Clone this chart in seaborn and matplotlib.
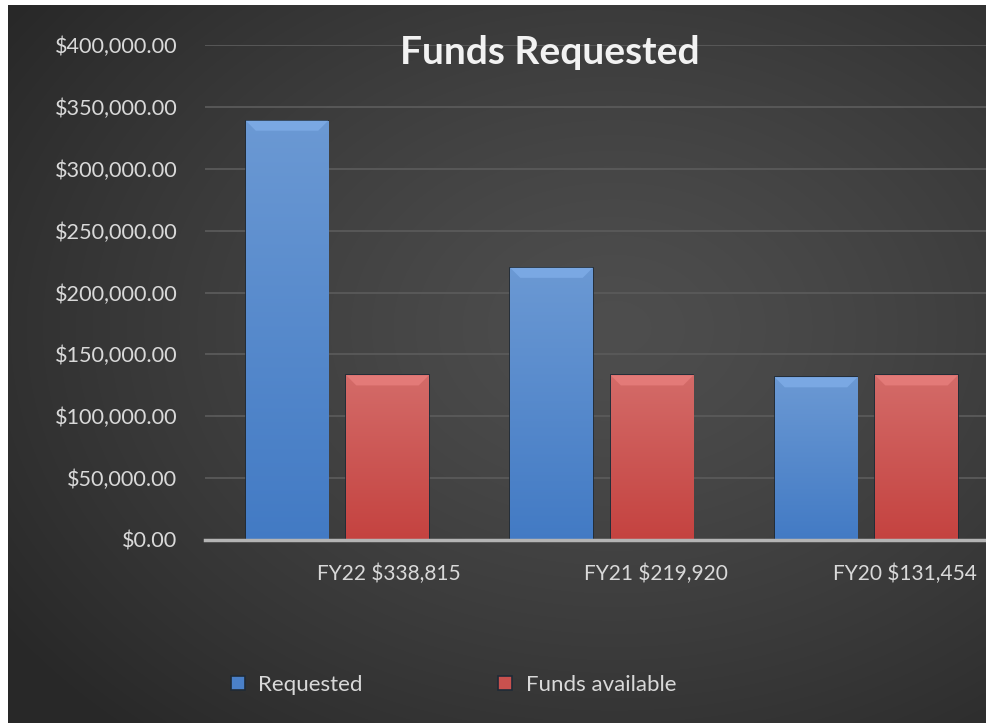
import numpy as np
import pandas as pd
import matplotlib
matplotlib.use("Agg")
import matplotlib.pyplot as plt
import matplotlib.transforms as mtransforms
from matplotlib.patches import Polygon
from matplotlib.ticker import FuncFormatter
import seaborn as sns

# ---- data ----
categories = ["FY22 $338,815", "FY21 $219,920", "FY20 $131,454"]
requested = [338815, 219920, 131454]
funds_available = [133000, 133000, 133000]
series_names = ["Requested", "Funds available"]
yticks = [0, 50000, 100000, 150000, 200000, 250000, 300000, 350000, 400000]

df = pd.DataFrame({
    "category": categories * 2,
    "value": requested + funds_available,
    "series": [series_names[0]] * 3 + [series_names[1]] * 3,
})

sns.set_theme(style="dark")
plt.rcParams["font.family"] = ["Lato", "DejaVu Sans"]

W, H = 986, 723
fig = plt.figure(figsize=(W / 100, H / 100), dpi=100, facecolor="white")

# background panel with radial gradient
bg = fig.add_axes([8 / W, 0, 1 - 8 / W, 1 - 5 / H], zorder=-10)
yy, xx = np.mgrid[0:1:400j, 0:1:500j]
r = np.sqrt(((xx - 0.62) / 0.75) ** 2 + ((yy - 0.45) / 0.75) ** 2)
r = np.clip(r, 0, 1)
c0, c1 = 0.305, 0.16
val = c0 + (c1 - c0) * r ** 1.3
img = np.dstack([val, val, val])
bg.imshow(img, aspect="auto", extent=[0, 1, 1, 0], interpolation="bicubic")
bg.set_axis_off()

ax = fig.add_axes([205 / W, 1 - 540 / H, 1 - 205 / W, (540 - 45) / H])
ax.patch.set_alpha(0)

palette = {"Requested": "#4a80c8", "Funds available": "#c9514e"}
sns.barplot(data=df, x="category", y="value", hue="series", palette=palette,
            width=0.76, gap=0.18, ax=ax, saturation=1, legend=True,
            edgecolor="#1f2a36", linewidth=1.2, zorder=3)

ax.set_ylim(0, 400000)
ax.set_xlim(-0.5, -0.5 + (W - 205) / 264.5)
ax.set_yticks(yticks)
ax.yaxis.set_major_formatter(FuncFormatter(lambda v, p: f"${v:,.2f}"))
ax.grid(axis="y", color="#5a5a5a", linewidth=1.3, zorder=0)
ax.grid(axis="x", visible=False)
for s in ["top", "right", "left"]:
    ax.spines[s].set_visible(False)
ax.spines["bottom"].set_color("#b4b4b4")
ax.spines["bottom"].set_linewidth(2.5)
ax.spines["bottom"].set_zorder(5)
ax.set_xlabel("")
ax.set_ylabel("")
ax.tick_params(axis="y", length=0, pad=20, labelsize=15.6, labelcolor="#d9d9d9")
ax.tick_params(axis="x", length=0, pad=17, labelsize=15, labelcolor="#d9d9d9")

# shift category labels to the right like the reference
offsets_px = [52, 54, 39]
for lab, dx in zip(ax.get_xticklabels(), offsets_px):
    lab.set_transform(lab.get_transform() + mtransforms.ScaledTranslation(dx / 100, 0, fig.dpi_scale_trans))

# bevel / gradient effect for bars
grad_cols = {
    "Requested": ((0.42, 0.60, 0.83), (0.26, 0.48, 0.77)),
    "Funds available": ((0.83, 0.42, 0.41), (0.77, 0.26, 0.25)),
}
fig.canvas.draw()
inv = ax.transData.inverted()
bars = [p for p in ax.patches if p.get_height() > 0]
for i, p in enumerate(bars):
    key = series_names[0] if i < 3 else series_names[1]
    top_c, bot_c = grad_cols[key]
    x0, y0 = p.get_x(), p.get_y()
    w, h = p.get_width(), p.get_height()
    t = np.linspace(0, 1, 256)[:, None]
    g = np.array(top_c)[None, None, :] * (1 - t[..., None]) + np.array(bot_c)[None, None, :] * t[..., None]
    g = np.repeat(g, 4, axis=1)
    im = ax.imshow(g, extent=[x0, x0 + w, y0, y0 + h], aspect="auto", zorder=3.5,
                   interpolation="bilinear")
    im.set_clip_path(p)
    # top bevel
    (px0, py_top) = ax.transData.transform((x0, y0 + h))
    (px1, _) = ax.transData.transform((x0 + w, y0 + h))
    d = 10
    pts_px = [(px0, py_top), (px1, py_top), (px1 - d, py_top - d), (px0 + d, py_top - d)]
    pts = inv.transform(pts_px)
    light = tuple(min(1, c + 0.06) for c in top_c)
    ax.add_patch(Polygon(pts, closed=True, facecolor=light, edgecolor="none", zorder=3.7))
    ax.set_xlim(ax.get_xlim())

ax.set_ylim(0, 400000)

# legend
leg = ax.legend(loc="center left", bbox_to_anchor=(231 / W, 1 - 685 / H),
                bbox_transform=fig.transFigure, ncol=2, frameon=False,
                fontsize=16, handlelength=0.63, handleheight=0.63,
                handletextpad=0.6, columnspacing=6.1, borderpad=0, borderaxespad=0)
for txt in leg.get_texts():
    txt.set_color("#d9d9d9")

fig.text(550 / W, 1 - 64 / H, "Funds Requested", ha="center", va="baseline",
         fontsize=28, fontweight="bold", color="#f2f2f2")

fig.savefig("out.png", dpi=100, facecolor="white")
